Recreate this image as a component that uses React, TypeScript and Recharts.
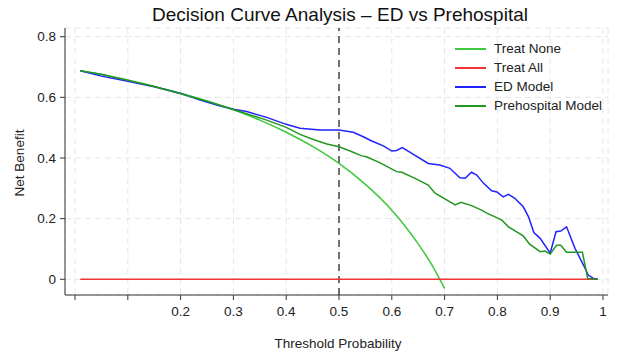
import React from "react";
import {
  LineChart,
  Line,
  XAxis,
  YAxis,
  CartesianGrid,
  ReferenceLine,
} from "recharts";

// Treat None curve (as labelled in the legend)
const noneThresholds = [0.01, 0.05, 0.1, 0.15, 0.2, 0.25, 0.3, 0.35, 0.4, 0.45, 0.5, 0.55, 0.6, 0.625, 0.65, 0.675, 0.7];
const noneValues = [0.688, 0.675, 0.657, 0.636, 0.614, 0.588, 0.559, 0.525, 0.485, 0.438, 0.382, 0.313, 0.228, 0.176, 0.117, 0.05, -0.03];

// Treat All flat line
const allThresholds = [0.01, 0.99];
const allValues = [0, 0];

const edThresholds = [
  0.01, 0.05, 0.1, 0.15, 0.2, 0.237, 0.27, 0.3, 0.325, 0.363, 0.4, 0.426, 0.464, 0.5, 0.527, 0.546, 0.562,
  0.584, 0.6, 0.609, 0.62, 0.641, 0.669, 0.691, 0.71, 0.729, 0.739, 0.751, 0.761, 0.773, 0.789, 0.799, 0.811,
  0.821, 0.833, 0.849, 0.859, 0.869, 0.881, 0.9, 0.911, 0.92, 0.931, 0.947, 0.963, 0.972, 0.982, 0.99,
];
const edValues = [
  0.688, 0.67, 0.653, 0.635, 0.613, 0.591, 0.574, 0.561, 0.553, 0.534, 0.511, 0.498, 0.492, 0.492, 0.485, 0.47, 0.456,
  0.44, 0.423, 0.425, 0.434, 0.412, 0.382, 0.377, 0.366, 0.335, 0.333, 0.353, 0.344, 0.318, 0.292, 0.288, 0.272,
  0.28, 0.267, 0.239, 0.206, 0.154, 0.135, 0.086, 0.157, 0.159, 0.173, 0.102, 0.047, 0.014, 0.003, 0.001,
];

const preThresholds = [
  0.01, 0.05, 0.1, 0.15, 0.2, 0.25, 0.3, 0.363, 0.4, 0.426, 0.45, 0.477, 0.5, 0.521, 0.543, 0.552, 0.578, 0.609,
  0.619, 0.644, 0.669, 0.682, 0.72, 0.731, 0.751, 0.77, 0.78, 0.808, 0.821, 0.849, 0.861, 0.881, 0.89, 0.9, 0.912,
  0.92, 0.931, 0.961, 0.971, 0.99,
];
const preValues = [
  0.688, 0.676, 0.656, 0.636, 0.612, 0.587, 0.56, 0.525, 0.501, 0.478, 0.462, 0.446, 0.437, 0.423, 0.407, 0.404, 0.384, 0.355,
  0.353, 0.333, 0.311, 0.284, 0.245, 0.254, 0.243, 0.228, 0.218, 0.196, 0.173, 0.143, 0.116, 0.091, 0.093, 0.083, 0.112,
  0.112, 0.089, 0.089, 0.003, 0,
];

const xTicks = [0, 0.1, 0.2, 0.3, 0.4, 0.5, 0.6, 0.7, 0.8, 0.9, 1];
const yTicks = [0, 0.2, 0.4, 0.6, 0.8];

const zip = (ts: number[], vs: number[]) => ts.map((t, i) => ({ t, v: vs[i] }));

const series = [
  { name: "Treat None", color: "#3cc83c", data: zip(noneThresholds, noneValues), type: "monotone" },
  { name: "Treat All", color: "#f23434", data: zip(allThresholds, allValues), type: "linear" },
  { name: "ED Model", color: "#2222ff", data: zip(edThresholds, edValues), type: "linear" },
  { name: "Prehospital Model", color: "#229622", data: zip(preThresholds, preValues), type: "linear" },
];

const font = '"Liberation Sans", Arial, sans-serif';
const axisColor = "#333";

const overlay = (left: number, top: number, extra: React.CSSProperties = {}): React.CSSProperties => ({
  position: "absolute",
  left,
  top,
  transform: "translate(-50%, -50%)",
  whiteSpace: "nowrap",
  color: "#222",
  ...extra,
});

export default function App() {
  return (
    <div style={{ position: "fixed", left: 0, top: 0, width: 618, height: 356, background: "#fff", fontFamily: font }}>
      <LineChart width={618} height={356} margin={{ top: 28, right: 10, bottom: 0, left: 0 }}>
        <CartesianGrid stroke="#e6e6e6" strokeDasharray="6 4" />
        <XAxis
          dataKey="t"
          type="number"
          domain={[-0.019, 1.0095]}
          allowDataOverflow
          ticks={xTicks}
          tickFormatter={(v: number) => (v < 0.15 ? "" : v === 1 ? "1" : v.toFixed(1))}
          height={61}
          tickSize={5}
          tickMargin={6}
          stroke={axisColor}
          tick={{ fontSize: 13.5, fill: "#222", fontFamily: font }}
        />
        <YAxis
          type="number"
          domain={[-0.0518, 0.8287]}
          allowDataOverflow
          ticks={yTicks}
          tickFormatter={(v: number) => (v === 0 ? "0" : v.toFixed(1))}
          width={65}
          tickSize={5}
          tickMargin={4}
          stroke={axisColor}
          tick={{ fontSize: 13.5, fill: "#222", fontFamily: font }}
        />
        <ReferenceLine x={0.5} stroke="#444" strokeWidth={1.5} strokeDasharray="7 5" />
        {series.map((s) => (
          <Line
            key={s.name}
            data={s.data}
            dataKey="v"
            name={s.name}
            type={s.type as any}
            stroke={s.color}
            strokeWidth={1.5}
            dot={false}
            activeDot={false}
            isAnimationActive={false}
          />
        ))}
      </LineChart>
      <div style={{ position: "absolute", left: 455, top: 39, fontSize: 13.5, color: "#222" }}>
        {series.map((s) => (
          <div key={s.name} style={{ display: "flex", alignItems: "center", height: 19 }}>
            <div style={{ width: 31, height: 2, background: s.color, marginRight: 8 }} />
            <span>{s.name}</span>
          </div>
        ))}
      </div>
      <div style={overlay(340, 15, { fontSize: 19, color: "#111" })}>Decision Curve Analysis – ED vs Prehospital</div>
      <div style={overlay(338, 343, { fontSize: 13.5 })}>Threshold Probability</div>
      <div style={overlay(19, 163, { fontSize: 13.5, transform: "translate(-50%, -50%) rotate(-90deg)" })}>
        Net Benefit
      </div>
    </div>
  );
}
